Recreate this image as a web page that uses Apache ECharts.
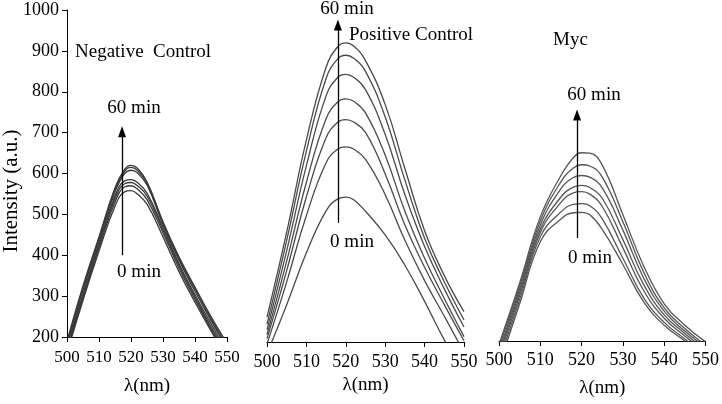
<!DOCTYPE html>
<html><head><meta charset="utf-8">
<script src="https://cdn.jsdelivr.net/npm/echarts@6/dist/echarts.min.js"></script>
<style>html,body{margin:0;padding:0;background:#fff}#c{width:722px;height:404px}</style>
</head><body><div id="c"></div>
<script>
// Wavelength sampling (nm)
const wavelengths = [500, 505, 510, 515, 518, 520, 522, 525, 530, 535, 540, 545, 550];
const xTicks = [500, 510, 520, 530, 540, 550];
const yTicks = [200, 300, 400, 500, 600, 700, 800, 900, 1000];

// Negative Control (0 min -> 60 min)
const neg0 = [160, 290, 410, 520, 555, 558, 550, 525, 445, 360, 285, 215, 150];
const neg1 = [165, 295, 418, 530, 567, 570, 562, 536, 455, 368, 292, 220, 155];
const neg2 = [170, 300, 425, 538, 575, 578, 570, 545, 462, 375, 298, 225, 160];
const neg3 = [175, 305, 430, 545, 582, 585, 578, 552, 468, 380, 303, 232, 165];
const neg4 = [180, 315, 438, 555, 600, 608, 602, 572, 475, 388, 312, 240, 172];
const neg5 = [185, 320, 442, 560, 606, 615, 608, 577, 478, 392, 318, 245, 178];
const neg6 = [190, 325, 445, 565, 610, 620, 613, 580, 482, 396, 322, 250, 185];

// Positive Control (0 min -> 60 min)
const pos0 = [172, 290, 415, 516, 545, 549, 543, 515, 458, 385, 298, 205, 125];
const pos1 = [195, 345, 505, 632, 665, 670, 665, 640, 555, 445, 348, 262, 175];
const pos2 = [208, 372, 550, 692, 730, 736, 730, 705, 605, 482, 380, 290, 203];
const pos3 = [218, 395, 585, 738, 779, 786, 780, 752, 650, 515, 402, 305, 213];
const pos4 = [230, 420, 625, 793, 838, 845, 838, 808, 700, 555, 430, 328, 236];
const pos5 = [243, 445, 660, 835, 883, 891, 884, 852, 742, 590, 450, 345, 253];
const pos6 = [260, 465, 687, 862, 912, 921, 913, 878, 772, 618, 468, 360, 273];

// Myc (0 min -> 60 min)
const myc0 = [140, 290, 440, 495, 510, 511, 505, 470, 385, 295, 238, 200, 160];
const myc1 = [150, 300, 452, 512, 530, 532, 527, 495, 400, 305, 245, 205, 165];
const myc2 = [160, 310, 462, 535, 558, 561, 555, 525, 425, 322, 255, 212, 172];
const myc3 = [168, 318, 470, 548, 572, 576, 571, 545, 445, 337, 263, 218, 178];
const myc4 = [175, 325, 480, 568, 595, 600, 596, 570, 468, 353, 272, 224, 185];
const myc5 = [185, 333, 490, 585, 618, 626, 623, 596, 488, 367, 280, 230, 190];
const myc6 = [192, 340, 500, 600, 643, 655, 654, 625, 505, 382, 290, 238, 198];

// Arrow annotations [x(nm), from, to]
const negArrow = [517.2, 400, 702];
const posArrow = [518.0, 487, 964];
const mycArrow = [518.9, 449, 746];

const panels = [
  {name: 'Negative Control', curves: [neg0, neg1, neg2, neg3, neg4, neg5, neg6], arrow: negArrow, color: '#3a3a3a'},
  {name: 'Positive Control', curves: [pos0, pos1, pos2, pos3, pos4, pos5, pos6], arrow: posArrow, color: '#4a4a4a'},
  {name: 'Myc', curves: [myc0, myc1, myc2, myc3, myc4, myc5, myc6], arrow: mycArrow, color: '#555555'}
];

const FONT = 'Liberation Serif';
const chart = echarts.init(document.getElementById('c'), null, {renderer: 'canvas'});

const grids = [
  {left: 67, top: 10, width: 160, height: 327},
  {left: 267, top: 10, width: 197, height: 332},
  {left: 499, top: 10, width: 209, height: 331}
];
const xLabelMargin = [12, 11, 10];
const xLabelSize = [17, 18, 18];
const xNameGap = [40, 31, 38];

const xAxes = grids.map((g, i) => ({
  type: 'value', gridIndex: i, min: xTicks[0], max: xTicks[xTicks.length - 1], interval: 10,
  name: 'λ(nm)', nameLocation: 'middle', nameGap: xNameGap[i],
  nameTextStyle: {fontFamily: FONT, fontSize: 19, color: '#000'},
  axisLine: {show: true, onZero: false, lineStyle: {color: '#000', width: 1}},
  axisTick: {show: true, length: 5, lineStyle: {color: '#000'}},
  axisLabel: {fontFamily: FONT, fontSize: xLabelSize[i], color: '#000', margin: xLabelMargin[i], formatter: v => String(v)},
  splitLine: {show: false}
}));
const yAxes = grids.map((g, i) => ({
  type: 'value', gridIndex: i, min: yTicks[0], max: yTicks[yTicks.length - 1], interval: 100,
  show: i === 0,
  axisLine: {show: true, lineStyle: {color: '#000', width: 1}},
  axisTick: {show: true, length: 5, lineStyle: {color: '#000'}},
  axisLabel: {fontFamily: FONT, fontSize: 18, color: '#000', margin: 8, formatter: v => String(v)},
  splitLine: {show: false}
}));

const series = [];
panels.forEach((p, i) => {
  p.curves.forEach((c, k) => {
    const s = {
      type: 'line', xAxisIndex: i, yAxisIndex: i, smooth: 0.45, symbol: 'none', clip: true,
      silent: true, animation: false,
      lineStyle: {color: p.color, width: 1.3},
      data: wavelengths.map((w, j) => [w, c[j]])
    };
    if (k === 0) {
      s.markLine = {
        silent: true, animation: false, symbol: ['none', 'triangle'], symbolSize: [8, 11],
        label: {show: false},
        lineStyle: {color: '#000', width: 1.3, type: 'solid'},
        data: [[{coord: [p.arrow[0], p.arrow[1]]}, {coord: [p.arrow[0], p.arrow[2]]}]]
      };
    }
    series.push(s);
  });
});

const txt = (text, x, y, align, size, rot) => ({
  type: 'text', x: x, y: y, rotation: rot || 0,
  style: {text: text, fontFamily: FONT, fontSize: size || 19, fill: '#000', textAlign: align || 'center', textVerticalAlign: 'middle'}
});

chart.setOption({
  animation: false,
  backgroundColor: '#fff',
  grid: grids,
  xAxis: xAxes,
  yAxis: yAxes,
  series: series,
  graphic: [
    txt('Intensity (a.u.)', 11, 191, 'center', 21, Math.PI / 2),
    txt('Negative  Control', 75, 52, 'left'),
    txt('60 min', 134, 108),
    txt('0 min', 139, 272),
    txt('60 min', 347, 9),
    txt('Positive Control', 349, 35, 'left'),
    txt('0 min', 352, 242),
    txt('Myc', 553, 40, 'left'),
    txt('60 min', 594, 95),
    txt('0 min', 590, 258)
  ]
});
</script></body></html>
